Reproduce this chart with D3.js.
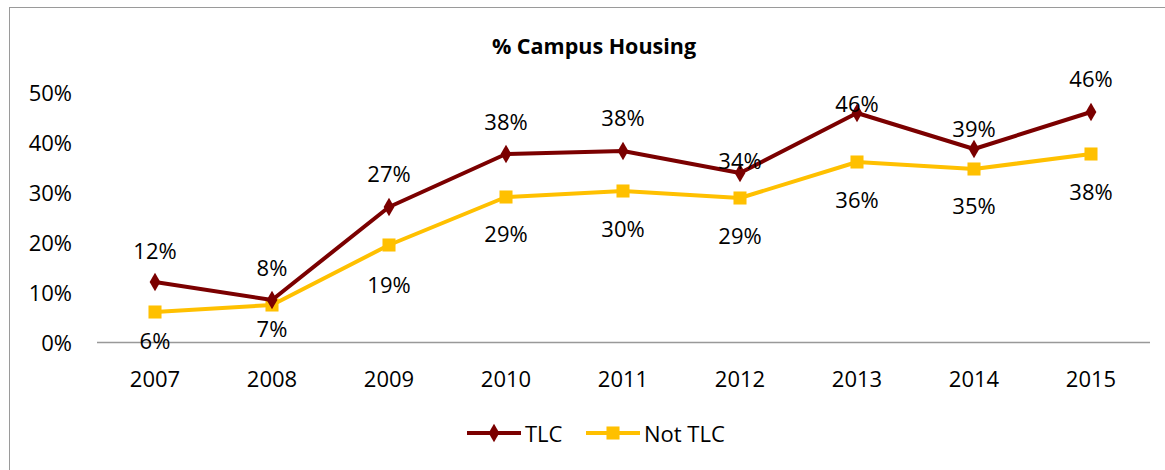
<!DOCTYPE html>
<html>
<head>
<meta charset="utf-8">
<script src="https://cdn.jsdelivr.net/npm/d3@7"></script>
<style>
  body { margin: 0; background: #fff; }
  svg text { font-family: "Open Sans", sans-serif; fill: #000; }
</style>
</head>
<body>
<svg id="chart" width="1165" height="470"></svg>
<script>
// data
var years = ["2007", "2008", "2009", "2010", "2011", "2012", "2013", "2014", "2015"];
var tlc = [12.0, 8.4, 27.0, 37.6, 38.2, 33.8, 45.8, 38.6, 46.0];
var notTlc = [6.0, 7.4, 19.4, 29.0, 30.2, 28.8, 36.0, 34.6, 37.6];
var yTicks = [0, 10, 20, 30, 40, 50];

// label nudges (hand placed in the original)
var tlcLabelDy = [-32, -33, -34, -33, -34, -13, -10, -21, -34];
var notLabelDy = [28, 23, 39, 36, 37, 37, 37, 36, 37];

var svg = d3.select("#chart");
var FS = 22;

// outer frame
svg.append("rect")
  .attr("x", 9.5).attr("y", 7.5)
  .attr("width", 1180).attr("height", 480)
  .attr("fill", "none").attr("stroke", "#9a9a9a");

var x = d3.scaleBand().domain(years).range([96.5, 1149.5]);
var y = d3.scaleLinear().domain([0, 50]).range([342, 92]);
var cx = function(d, i) { return x(years[i]) + x.bandwidth() / 2; };

svg.append("text")
  .attr("x", 594).attr("y", 45)
  .attr("text-anchor", "middle").attr("dominant-baseline", "central")
  .style("font-size", "21.5px").style("font-weight", "bold")
  .text("% Campus Housing");

// y labels (no gridlines)
svg.selectAll("text.ylab").data(yTicks).enter().append("text")
  .attr("class", "ylab")
  .attr("x", 72).attr("y", function(d) { return y(d); })
  .attr("text-anchor", "end").attr("dominant-baseline", "central")
  .style("font-size", FS + "px")
  .text(function(d) { return d + "%"; });

// x axis
var xAxis = svg.append("g")
  .attr("transform", "translate(0,342)")
  .call(d3.axisBottom(x).tickSize(0).tickPadding(0));
xAxis.select(".domain").attr("stroke", "#999").attr("stroke-width", 1.5);
xAxis.selectAll(".tick text")
  .attr("y", 36).attr("dy", null)
  .attr("dominant-baseline", "central")
  .style("font-family", "'Open Sans', sans-serif")
  .style("font-size", FS + "px").attr("fill", "#000");

var line = d3.line().x(cx).y(function(d) { return y(d); });

var series = [
  {name: "TLC", values: tlc, color: "#7b0000", marker: d3.symbolDiamond, size: 100, dy: tlcLabelDy},
  {name: "Not TLC", values: notTlc, color: "#ffc000", marker: d3.symbolSquare, size: 170, dy: notLabelDy}
];

series.slice().reverse().forEach(function(s) {
  svg.append("path")
    .datum(s.values)
    .attr("d", line)
    .attr("fill", "none")
    .attr("stroke", s.color)
    .attr("stroke-width", 4)
    .attr("stroke-linejoin", "round");
  svg.selectAll(null).data(s.values).enter().append("path")
    .attr("d", d3.symbol().type(s.marker).size(s.size))
    .attr("transform", function(d, i) { return "translate(" + cx(d, i) + "," + y(d) + ")"; })
    .attr("fill", s.color);
});

series.forEach(function(s) {
  svg.selectAll(null).data(s.values).enter().append("text")
    .attr("x", cx)
    .attr("y", function(d, i) { return y(d) + s.dy[i]; })
    .attr("text-anchor", "middle").attr("dominant-baseline", "central")
    .style("font-size", FS + "px")
    .text(function(d) { return Math.round(d) + "%"; });
});

// legend
var legend = svg.append("g").attr("transform", "translate(467,433)");
series.forEach(function(s, i) {
  var g = legend.append("g").attr("transform", "translate(" + (i * 119) + ",0)");
  g.append("line").attr("x1", 0).attr("x2", 54)
    .attr("stroke", s.color).attr("stroke-width", 4);
  g.append("path")
    .attr("d", d3.symbol().type(s.marker).size(s.size))
    .attr("transform", "translate(27,0)")
    .attr("fill", s.color);
  g.append("text").attr("x", 58).attr("y", 0)
    .attr("dominant-baseline", "central")
    .style("font-size", FS + "px")
    .text(s.name);
});
</script>
</body>
</html>
